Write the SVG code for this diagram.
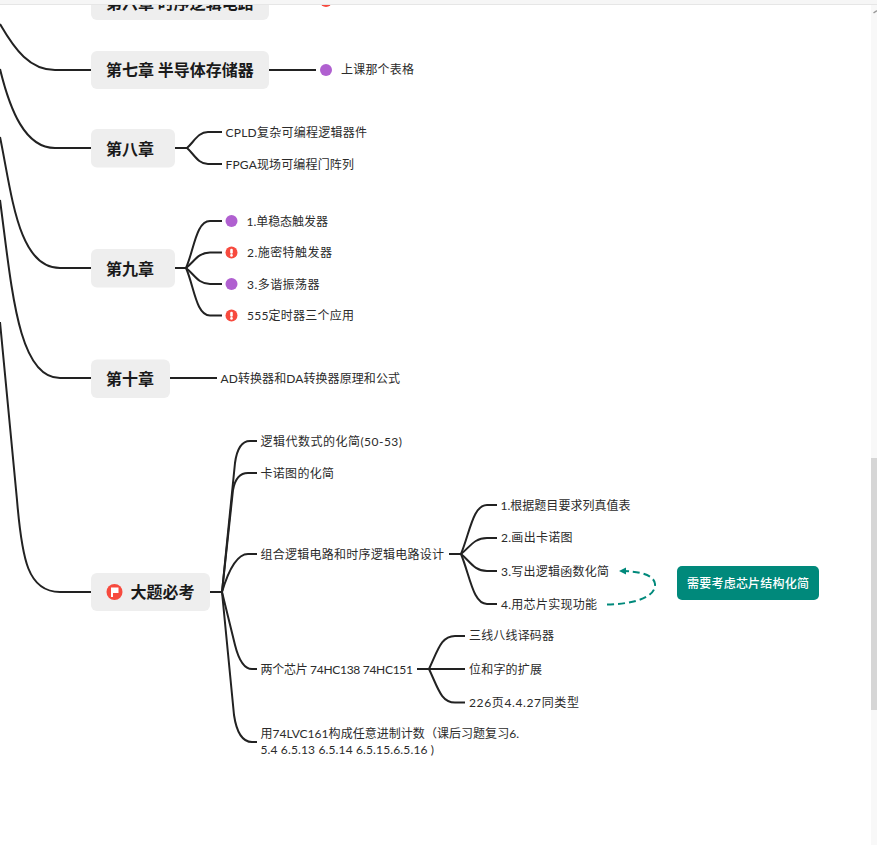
<svg xmlns="http://www.w3.org/2000/svg" width="877" height="845" viewBox="0 0 877 845">
<style>
text{font-family:"Lato","Noto Sans CJK SC","Noto Sans",sans-serif;dominant-baseline:central}
.t{font-size:12px;fill:#2b2b2b}
.h{font-size:16px;font-weight:700;fill:#1a1a1a;font-family:"Noto Sans CJK SC",sans-serif}
.b{fill:#eeeeee}
.e{fill:none;stroke:#222;stroke-width:2;stroke-linecap:butt}
.p{fill:#b060d0}
.r{fill:#f74a3e}
.w{font-size:12px;font-weight:500;fill:#fff}
</style>
<defs>
<marker id="arr" markerUnits="userSpaceOnUse" markerWidth="10" markerHeight="10" refX="8" refY="4" orient="auto"><path d="M1 0.5L8 4L1 7.5Z" fill="#00897b"/></marker>
<g id="warn"><circle r="6" class="r"/><rect x="-1.300" y="-3.800" width="2.600" height="5" rx="1.200" fill="#fff"/><circle cy="2.900" r="1.300" fill="#fff"/></g>
</defs>
<rect width="877" height="845" fill="#fff"/>
<g id="connectors">
<path class="e" d="M0 24C15 50 30 70 55 70L91 70"/>
<path class="e" d="M0 69C10 110 25 148 55 148L91 148"/>
<path class="e" d="M0 137C12 195 18 268 60 268L91 268"/>
<path class="e" d="M0 200C12 290 18 378 60 378L91 378"/>
<path class="e" d="M0 322L17 500C22 560 28 592 60 592L91 592"/>
<path class="e" d="M269 70L316 70"/>
<path class="e" d="M175 148L187 148C194 142 198 132 208 132L222 132"/>
<path class="e" d="M175 148L187 148C194 154 198 164 208 164L222 164"/>
<path class="e" d="M175 268L186 268C194 250 196 221 210 221L222 221"/>
<path class="e" d="M175 268L186 268C194 262 198 252.500 210 252.500L222 252.500"/>
<path class="e" d="M175 268L186 268C194 274 198 284 210 284L222 284"/>
<path class="e" d="M175 268L186 268C194 286 196 315.500 210 315.500L222 315.500"/>
<path class="e" d="M170 378L217 378"/>
<path class="e" d="M210 592L222 592L235 463Q238 441 250 441L257 441"/>
<path class="e" d="M222 592L233 490Q236 473 248 473L257 473"/>
<path class="e" d="M222 592C228 572 236 554 248 554L257 554"/>
<path class="e" d="M222 592L235 645Q241 669 252 669L257 669"/>
<path class="e" d="M222 592L234 715Q238 742 252 742L257 742"/>
<path class="e" d="M449 554L461 554C470 532 473 505 487 505L497 505"/>
<path class="e" d="M461 554C470 547 474 538 487 538L497 538"/>
<path class="e" d="M461 554C470 561 474 571 487 571L497 571"/>
<path class="e" d="M461 554C470 576 473 604 487 604L497 604"/>
<path class="e" d="M417 669L429 669C438 650 441 636 455 636L465 636"/>
<path class="e" d="M429 669L465 669"/>
<path class="e" d="M429 669C438 688 441 702.500 455 702.500L465 702.500"/>
<path d="M607 604.500C635 604 656 597 655 584C654 575 640 571 619 571" fill="none" stroke="#00897b" stroke-width="2" stroke-dasharray="7 4" marker-end="url(#arr)"/>
</g>
<g id="n6"><rect class="b" x="91" y="-18" width="178" height="38" rx="6"/><text class="h" x="106" y="1.500">第六章 时序逻辑电路</text></g>
<g id="n6i"><circle cx="326" cy="1" r="6" class="r"/></g>
<g id="n7"><rect class="b" x="91" y="51" width="178" height="38" rx="6"/><text class="h" x="106" y="69">第七章 半导体存储器</text></g>
<g id="n7a"><circle cx="326" cy="70" r="6" class="p"/><text class="t" x="341" y="69.500" textLength="73">上课那个表格</text></g>
<g id="n8"><rect class="b" x="91" y="129" width="84" height="38.500" rx="6"/><text class="h" x="106" y="147.500">第八章</text></g>
<g id="n8a"><text class="t" x="225.500" y="132" textLength="141.500">CPLD复杂可编程逻辑器件</text></g>
<g id="n8b"><text class="t" x="225.500" y="164" textLength="128.500">FPGA现场可编程门阵列</text></g>
<g id="n9"><rect class="b" x="91" y="249" width="84" height="38.500" rx="6"/><text class="h" x="106" y="267.500">第九章</text></g>
<g id="n9a"><circle cx="231.500" cy="221" r="6" class="p"/><text class="t" x="246.500" y="221" textLength="81.500">1.单稳态触发器</text></g>
<g id="n9b"><use href="#warn" x="231.500" y="252.500"/><text class="t" x="247" y="252.500" textLength="85">2.施密特触发器</text></g>
<g id="n9c"><circle cx="231.500" cy="284" r="6" class="p"/><text class="t" x="247" y="284" textLength="72.500">3.多谐振荡器</text></g>
<g id="n9d"><use href="#warn" x="231.500" y="315.500"/><text class="t" x="247" y="315.500" textLength="107">555定时器三个应用</text></g>
<g id="n10"><rect class="b" x="91" y="359.500" width="79" height="38.500" rx="6"/><text class="h" x="106" y="378">第十章</text></g>
<g id="n10a"><text class="t" x="220.500" y="378.500" textLength="179.500">AD转换器和DA转换器原理和公式</text></g>
<g id="big"><rect class="b" x="91" y="573" width="119" height="38" rx="6"/><circle cx="114.500" cy="592" r="8" class="r"/><path d="M111 587.500H118.500V593H113V597H111Z" fill="#fff"/><text class="h" x="130.500" y="591">大题必考</text></g>
<g id="b1"><text class="t" x="260.500" y="441.500" textLength="141.500">逻辑代数式的化简(50-53)</text></g>
<g id="b2"><text class="t" x="260.500" y="473.500" textLength="73.500">卡诺图的化简</text></g>
<g id="b3"><text class="t" x="260.500" y="554.500" textLength="183.500">组合逻辑电路和时序逻辑电路设计</text></g>
<g id="b3a"><text class="t" x="500.500" y="505" textLength="130">1.根据题目要求列真值表</text></g>
<g id="b3b"><text class="t" x="501" y="537.500" textLength="71.500">2.画出卡诺图</text></g>
<g id="b3c"><text class="t" x="501" y="571" textLength="108">3.写出逻辑函数化简</text></g>
<g id="b3d"><text class="t" x="501" y="604" textLength="96">4.用芯片实现功能</text></g>
<g id="note"><rect x="677" y="566" width="142" height="34" rx="5" fill="#00897b"/><text class="w" x="687" y="583" textLength="122">需要考虑芯片结构化简</text></g>
<g id="b4"><text class="t" x="260.500" y="669" textLength="152.500">两个芯片 74HC138 74HC151</text></g>
<g id="b4a"><text class="t" x="469" y="635.500" textLength="85">三线八线译码器</text></g>
<g id="b4b"><text class="t" x="469" y="669" textLength="73">位和字的扩展</text></g>
<g id="b4c"><text class="t" x="469" y="702.500" textLength="110">226页4.4.27同类型</text></g>
<g id="b5"><text class="t" x="260.500" y="733.500" textLength="258.500">用74LVC161构成任意进制计数（课后习题复习6.</text><text class="t" x="260.500" y="749.500" textLength="173.500">5.4 6.5.13 6.5.14 6.5.15.6.5.16 )</text></g>
<g id="chrome">
<rect width="877" height="4" fill="#f6f6f6"/><rect y="4" width="877" height="1" fill="#e6e6e6"/>
<rect x="871" y="5" width="6" height="840" fill="#f8f8f8"/><rect x="871" y="458" width="6" height="252" fill="#d6d6d6"/>
<path d="M873.500 13L877 10.500" stroke="#999" stroke-width="1.500" fill="none"/>
</g>
</svg>
